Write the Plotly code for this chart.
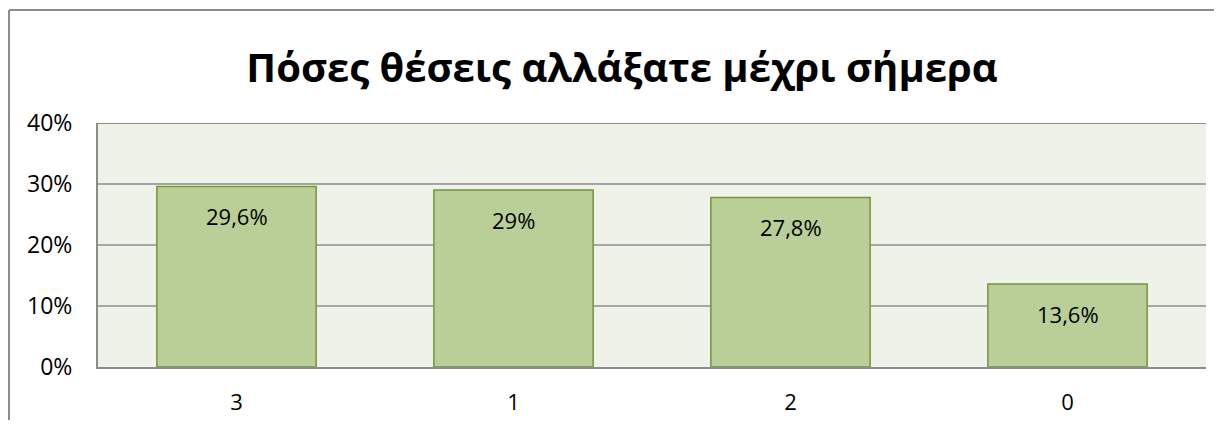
import plotly.graph_objects as go

categories = ["3", "1", "2", "0"]
values = [0.296, 0.29, 0.278, 0.136]
labels = ["29,6%", "29%", "27,8%", "13,6%"]
y_ticks = [0, 0.1, 0.2, 0.3, 0.4]
y_tick_labels = ["0%", "10%", "20%", "30%", "40%"]
title = "Πόσες θέσεις αλλάξατε μέχρι σήμερα"

FONT = "Open Sans"
OFF = 8  # default page body margin

fig = go.Figure()
fig.add_trace(go.Bar(
    x=categories, y=values,
    marker=dict(color="#BACF97", line=dict(color="#77933C", width=1.5)),
    width=0.575,
    hoverinfo="skip",
))

for i, (v, t) in enumerate(zip(values, labels)):
    fig.add_annotation(x=i, y=v, text=t, showarrow=False, yshift=-30,
                       font=dict(family=FONT, size=22, color="#000000"))

W, H = 1222 - 2 * OFF, 428 - 2 * OFF
L, T = 98 - OFF, 123 - OFF
R = (W + OFF) - 1206
B = (H + OFF) - 367
pw, ph = W - L - R, H - T - B

# outer chart frame (left and top edges visible)
fx0 = (9 - OFF - L) / pw
fy1 = 1 + (T - (10 - OFF)) / ph
fig.add_shape(type="line", xref="paper", yref="paper",
              x0=fx0, x1=fx0, y0=-(B + 20) / ph, y1=fy1,
              line=dict(color="#8C8C8C", width=2), layer="below")
fig.add_shape(type="line", xref="paper", yref="paper",
              x0=fx0, x1=(W + 20 - L) / pw, y0=fy1, y1=fy1,
              line=dict(color="#8C8C8C", width=2), layer="below")

fig.update_layout(
    width=W, height=H,
    margin=dict(l=L, r=R, t=T, b=B, autoexpand=False),
    paper_bgcolor="white", plot_bgcolor="#EFF2E9",
    title=dict(text="<b>" + title + "</b>", x=(622 - OFF - L) / pw, xref="paper", xanchor="center",
               y=1 - (68 - OFF) / H, yanchor="middle",
               font=dict(family=FONT, size=40, color="#000000")),
    showlegend=False,
    xaxis=dict(showgrid=False, showline=True, linecolor="#8C8C8C", linewidth=2,
               automargin=False,
               ticks="", tickfont=dict(family=FONT, size=22, color="#000000"),
               ticklabelstandoff=15),
    yaxis=dict(range=[0, 0.4], tickvals=y_ticks, ticktext=y_tick_labels,
               automargin=False,
               showgrid=True, gridcolor="#A6A6A6", gridwidth=2,
               showline=True, linecolor="#8C8C8C", linewidth=2, zeroline=False,
               ticks="", tickfont=dict(family=FONT, size=23, color="#000000"),
               ticklabelstandoff=19),
)
fig.add_shape(type="line", xref="paper", yref="y", x0=0, x1=1, y0=0.4, y1=0.4,
              line=dict(color="#8C8C8C", width=2), layer="below")

fig.write_html("out.html")
